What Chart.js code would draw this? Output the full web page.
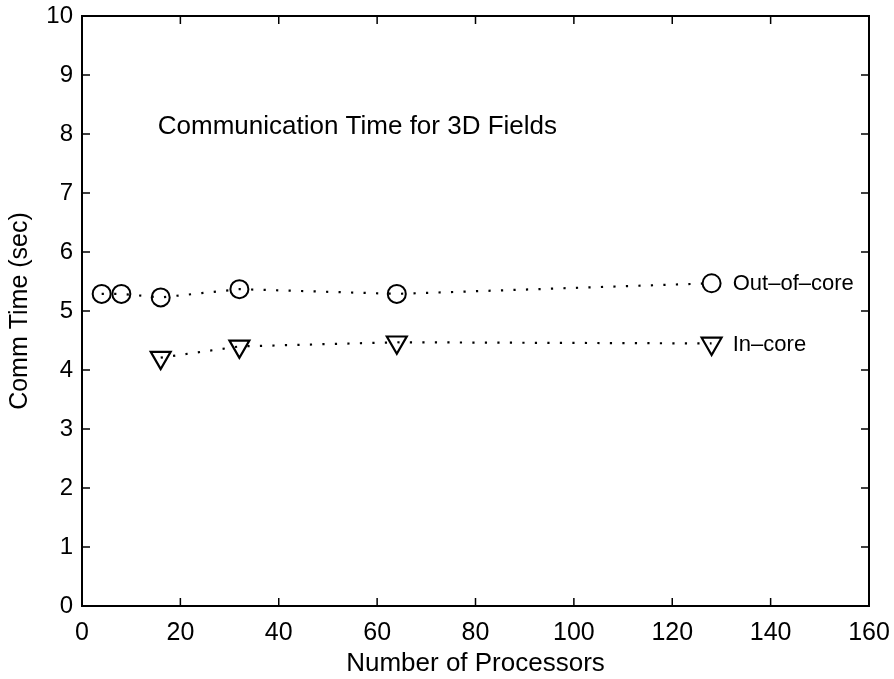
<!DOCTYPE html>
<html>
<head>
<meta charset="utf-8">
<script src="https://cdn.jsdelivr.net/npm/chart.js@4.4.1/dist/chart.umd.min.js"></script>
<style>
  body { margin: 0; background: #fff; }
  #wrap { width: 894px; height: 679px; }
</style>
</head>
<body>
<div id="wrap"><canvas id="commChart" width="894" height="679"></canvas></div>
<script>
// values
const procsOut = [4, 8, 16, 32, 64, 128];
const outOfCore = [5.29, 5.29, 5.23, 5.37, 5.29, 5.47];
const procsIn = [16, 32, 64, 128];
const inCore = [4.21, 4.40, 4.47, 4.45];
const xTicks = [0, 20, 40, 60, 80, 100, 120, 140, 160];
const yTicks = [0, 1, 2, 3, 4, 5, 6, 7, 8, 9, 10];

const FONT = "'Liberation Sans', Arial, Helvetica, sans-serif";
const NARROW = "'Liberation Sans Narrow', 'Arial Narrow', 'Liberation Sans', sans-serif";

// box around plot + inward ticks on all sides, and the text labels
const boxPlugin = {
  id: 'box',
  afterDraw(chart) {
    const ctx = chart.ctx;
    const a = chart.chartArea;
    const xs = chart.scales.x, ys = chart.scales.y;
    ctx.save();
    ctx.strokeStyle = '#000';
    ctx.lineWidth = 2;
    ctx.strokeRect(a.left, a.top, a.right - a.left, a.bottom - a.top);
    ctx.lineWidth = 1.5;
    const t = 8;
    ctx.beginPath();
    xTicks.forEach(v => {
      const px = xs.getPixelForValue(v);
      ctx.moveTo(px, a.bottom); ctx.lineTo(px, a.bottom - t);
      ctx.moveTo(px, a.top); ctx.lineTo(px, a.top + t);
    });
    yTicks.forEach(v => {
      const py = ys.getPixelForValue(v);
      ctx.moveTo(a.left, py); ctx.lineTo(a.left + t, py);
      ctx.moveTo(a.right, py); ctx.lineTo(a.right - t, py);
    });
    ctx.stroke();

    ctx.fillStyle = '#000';
    ctx.textBaseline = 'middle';
    ctx.textAlign = 'left';
    ctx.font = '26px ' + FONT;
    ctx.fillText('Communication Time for 3D Fields', xs.getPixelForValue(15.4), ys.getPixelForValue(8.12));
    ctx.font = '22px ' + FONT;
    const lastOut = outOfCore[outOfCore.length - 1];
    const lastIn = inCore[inCore.length - 1];
    ctx.fillText('Out\u2013of\u2013core', xs.getPixelForValue(132.3), ys.getPixelForValue(lastOut) + 1);
    ctx.fillText('In\u2013core', xs.getPixelForValue(132.3), ys.getPixelForValue(lastIn) + 1);
    ctx.restore();
  }
};

const toPts = (xsArr, ysArr) => xsArr.map((x, i) => ({ x: x, y: ysArr[i] }));

new Chart(document.getElementById('commChart'), {
  type: 'line',
  data: {
    datasets: [{
      label: 'Out-of-core',
      data: toPts(procsOut, outOfCore),
      borderColor: '#000',
      borderWidth: 2.2,
      borderDash: [2.2, 10.3],
      pointStyle: 'circle',
      pointRadius: 9,
      pointBorderWidth: 2,
      pointBorderColor: '#000',
      pointBackgroundColor: 'rgba(255,255,255,0)',
      fill: false,
      tension: 0
    }, {
      label: 'In-core',
      data: toPts(procsIn, inCore),
      borderColor: '#000',
      borderWidth: 2.2,
      borderDash: [2.2, 10.3],
      pointStyle: 'triangle',
      pointRotation: 180,
      pointRadius: 11.5,
      pointBorderWidth: 2.2,
      pointBorderColor: '#000',
      pointBackgroundColor: 'rgba(255,255,255,0)',
      fill: false,
      tension: 0
    }]
  },
  options: {
    responsive: false,
    animation: false,
    layout: { padding: { top: 16, right: 25, left: 0, bottom: 0 } },
    plugins: {
      legend: { display: false },
      tooltip: { enabled: false }
    },
    scales: {
      x: {
        type: 'linear',
        min: 0, max: 160,
        afterBuildTicks: s => { s.ticks = xTicks.map(v => ({ value: v })); },
        afterFit: s => { s.height = 73; s.paddingLeft = 0; s.paddingRight = 0; },
        grid: { display: false, drawTicks: false },
        border: { display: false },
        ticks: { color: '#000', font: { family: NARROW, size: 25 }, padding: 12, maxRotation: 0 },
        title: { display: true, text: 'Number of Processors', color: '#000', font: { family: FONT, size: 26 }, padding: { top: 0, bottom: 0 } }
      },
      y: {
        type: 'linear',
        min: 0, max: 10,
        afterBuildTicks: s => { s.ticks = yTicks.map(v => ({ value: v })); },
        afterFit: s => { s.width = 82; s.paddingTop = 0; s.paddingBottom = 0; },
        grid: { display: false, drawTicks: false },
        border: { display: false },
        ticks: { color: '#000', font: { family: FONT, size: 24 }, padding: 9 },
        title: { display: true, text: 'Comm Time (sec)', color: '#000', font: { family: FONT, size: 25 }, padding: { top: 5, bottom: 0 } }
      }
    }
  },
  plugins: [boxPlugin]
});
</script>
</body>
</html>
